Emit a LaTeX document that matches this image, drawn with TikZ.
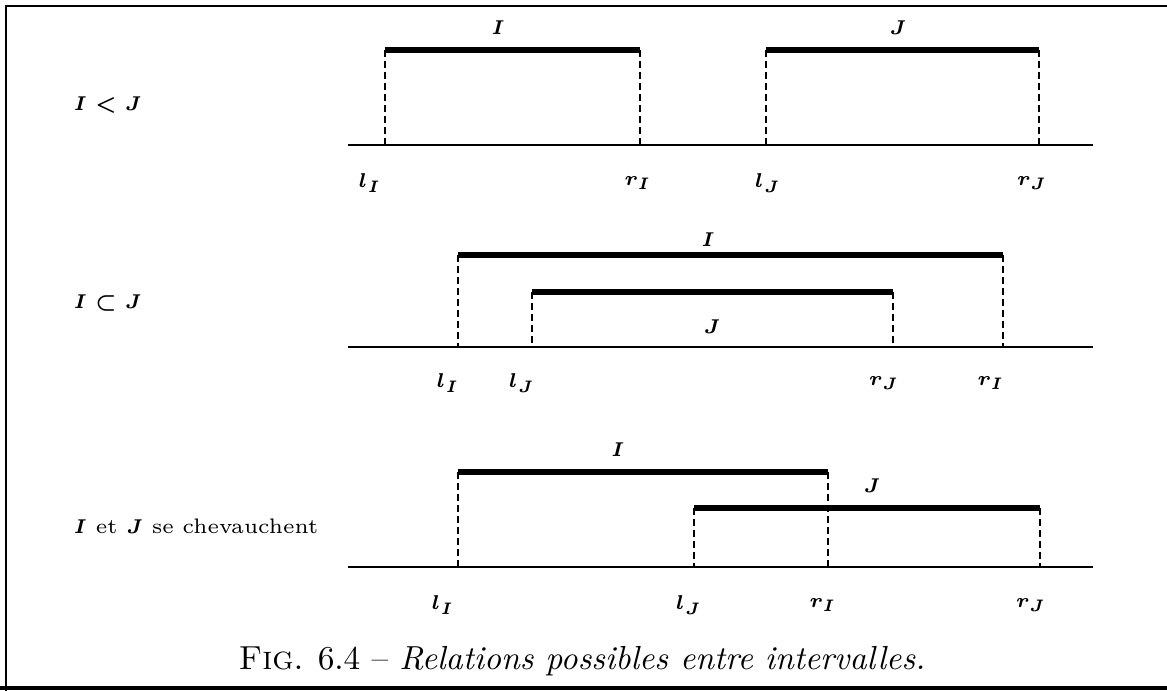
\documentclass[tikz,border=0pt]{standalone}
\usepackage{amsmath}
\begin{document}
\begin{tikzpicture}[x=0.3pt,y=-0.3pt,
  axis/.style={line width=0.45pt},
  bar/.style={line width=1.6pt},
  guide/.style={line width=0.55pt, dash pattern=on 2pt off 1.3pt},
  lab/.style={font=\fontsize{6.4}{8}\selectfont\boldmath, inner sep=0pt},
  rowlab/.style={font=\fontsize{6.3}{8}\selectfont\boldmath, inner sep=0pt, anchor=west},
  frame/.style={line width=0.6pt}]
\useasboundingbox (0,0) rectangle (1167,691);
% frame
\coordinate (f1) at (6,691);
\coordinate (f2) at (6,6);
\coordinate (f3) at (1167,6);
\coordinate (f4) at (0,688);
\coordinate (f5) at (1167,688);
\draw[frame] (f1) -- (f2) -- (f3);
\draw[line width=1.2pt] (f4) -- (f5);

% ---------- row 1 : I < J
\node[rowlab] (r1) at (73,105) {$I < J$};
\coordinate (ax1a) at (348,145); \coordinate (ax1b) at (1093,145);
\draw[axis] (ax1a) -- (ax1b);
\coordinate (p1a) at (385,50);  \coordinate (q1a) at (385,145);
\coordinate (p1b) at (640,50);  \coordinate (q1b) at (640,145);
\coordinate (p1c) at (766,50);  \coordinate (q1c) at (766,145);
\coordinate (p1d) at (1039,50); \coordinate (q1d) at (1039,145);
\draw[bar] (p1a) -- (p1b);
\draw[bar] (p1c) -- (p1d);
\draw[guide] (p1a) -- (q1a);
\draw[guide] (p1b) -- (q1b);
\draw[guide] (p1c) -- (q1c);
\draw[guide] (p1d) -- (q1d);
\node[lab] (t1I) at (498,28) {$I$};
\node[lab] (t1J) at (898,28) {$J$};
\node[lab] (l1a) at (370,183) {$l_I$};
\node[lab] (l1b) at (638,183) {$r_I$};
\node[lab] (l1c) at (768,183) {$l_J$};
\node[lab] (l1d) at (1032,183) {$r_J$};

% ---------- row 2 : I subset J
\node[rowlab] (r2) at (73,303) {$I \subset J$};
\coordinate (ax2a) at (348,347); \coordinate (ax2b) at (1093,347);
\draw[axis] (ax2a) -- (ax2b);
\coordinate (p2a) at (458,255);  \coordinate (q2a) at (458,347);
\coordinate (p2b) at (1003,255); \coordinate (q2b) at (1003,347);
\coordinate (p2c) at (532,292);  \coordinate (q2c) at (532,347);
\coordinate (p2d) at (893,292);  \coordinate (q2d) at (893,347);
\draw[bar] (p2a) -- (p2b);
\draw[bar] (p2c) -- (p2d);
\draw[guide] (p2a) -- (q2a);
\draw[guide] (p2b) -- (q2b);
\draw[guide] (p2c) -- (q2c);
\draw[guide] (p2d) -- (q2d);
\node[lab] (t2I) at (708,240) {$I$};
\node[lab] (t2J) at (712,327) {$J$};
\node[lab] (l2a) at (448,383) {$l_I$};
\node[lab] (l2b) at (522,383) {$l_J$};
\node[lab] (l2c) at (884,383) {$r_J$};
\node[lab] (l2d) at (991,383) {$r_I$};

% ---------- row 3 : overlap
\node[rowlab] (r3) at (73,526) {$I$ et $J$ se chevauchent};
\coordinate (ax3a) at (348,567); \coordinate (ax3b) at (1093,567);
\draw[axis] (ax3a) -- (ax3b);
\coordinate (p3a) at (458,472);  \coordinate (q3a) at (458,567);
\coordinate (p3b) at (828,472);  \coordinate (q3b) at (828,567);
\coordinate (p3c) at (694,508);  \coordinate (q3c) at (694,567);
\coordinate (p3d) at (1040,508); \coordinate (q3d) at (1040,567);
\draw[bar] (p3a) -- (p3b);
\draw[bar] (p3c) -- (p3d);
\draw[guide] (p3a) -- (q3a);
\draw[guide] (p3b) -- (q3b);
\draw[guide] (p3c) -- (q3c);
\draw[guide] (p3d) -- (q3d);
\node[lab] (t3I) at (618,450) {$I$};
\node[lab] (t3J) at (872,486) {$J$};
\node[lab] (l3a) at (443,605) {$l_I$};
\node[lab] (l3b) at (689,605) {$l_J$};
\node[lab] (l3c) at (823,605) {$r_I$};
\node[lab] (l3d) at (1031,605) {$r_J$};

% caption
\node[inner sep=0pt, font=\normalsize] (cap) at (582,661) {\textsc{Fig}. 6.4 -- \textit{Relations possibles entre intervalles.}};
\end{tikzpicture}
\end{document}
